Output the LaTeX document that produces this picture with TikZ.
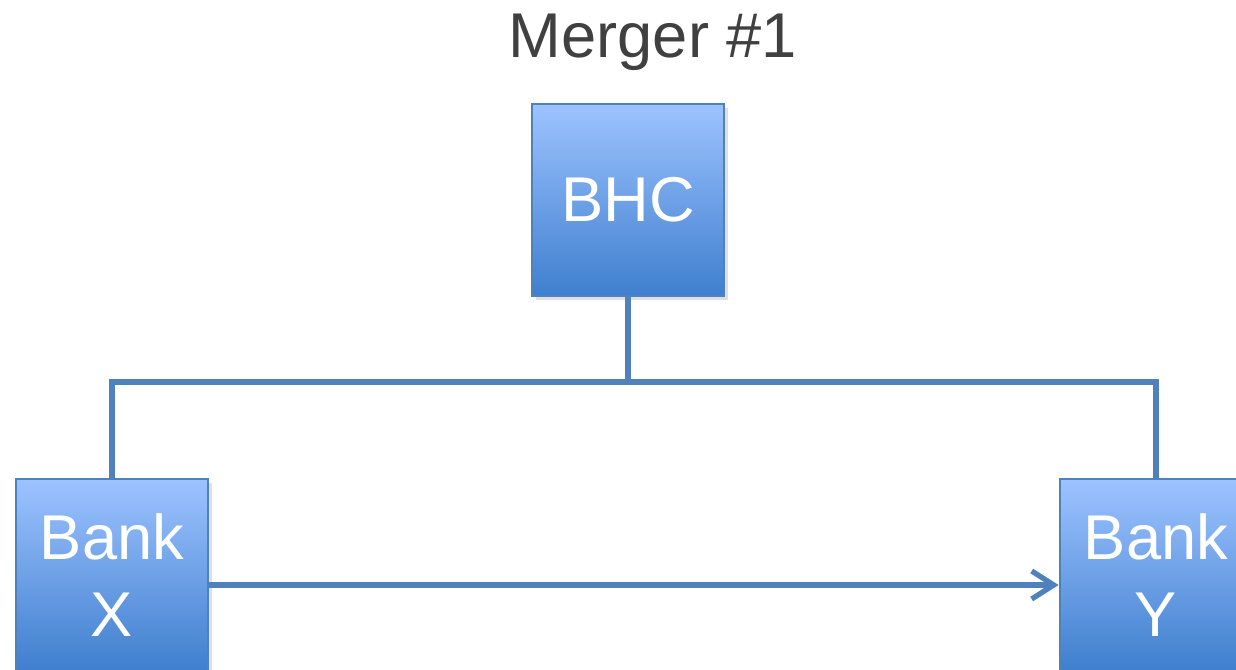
\documentclass[tikz,border=0pt]{standalone}
\usepackage{fontspec}
\setmainfont{Liberation Sans}
\usepackage{tikz}
\usetikzlibrary{arrows.meta, positioning, shadows}
\usepackage{xcolor}
\definecolor{linkblue}{HTML}{4F81BD}
\definecolor{boxtop}{HTML}{9DC3FF}
\definecolor{boxbottom}{HTML}{3F7FCE}
\definecolor{titlegray}{HTML}{404040}

\begin{document}
\begin{tikzpicture}[
    >={Straight Barb[length=2.2mm,width=2.8mm,line width=1.5pt]},
    line width=1.5pt,
    entity/.style={rectangle, draw=linkblue, line width=0.8pt,
        top color=boxtop, bottom color=boxbottom,
        minimum width=1.92cm, minimum height=1.92cm, inner sep=0pt,
        text=white, align=center,
        font=\fontsize{18}{22}\selectfont,
        drop shadow={opacity=0.25, shadow xshift=0.04cm, shadow yshift=-0.04cm}},
    link/.style={draw=linkblue},
]
\useasboundingbox (0,0) rectangle (12.36,6.70);
% Title
\node[text=titlegray, font=\fontsize{18}{22}\selectfont] (title) at (6.53,6.28) {Merger \#1};
% Nodes
\node[entity] (bhc) at (6.28,4.70) {BHC};
\node[entity] (bankx) at (1.12,0.95) {Bank\\X};
\node[entity] (banky) at (11.56,0.95) {Bank\\Y};
\coordinate (busL) at (1.12,2.88);
\coordinate (busR) at (11.56,2.88);
% Lines
\draw[link] (bhc.south) -- (bhc.south |- busL);
\draw[link] (bankx.north) -- (busL) -- (busR) -- (banky.north);
\draw[link,->] ([yshift=-1mm]bankx.east) -- ([yshift=-1mm]banky.west);
\end{tikzpicture}
\end{document}
